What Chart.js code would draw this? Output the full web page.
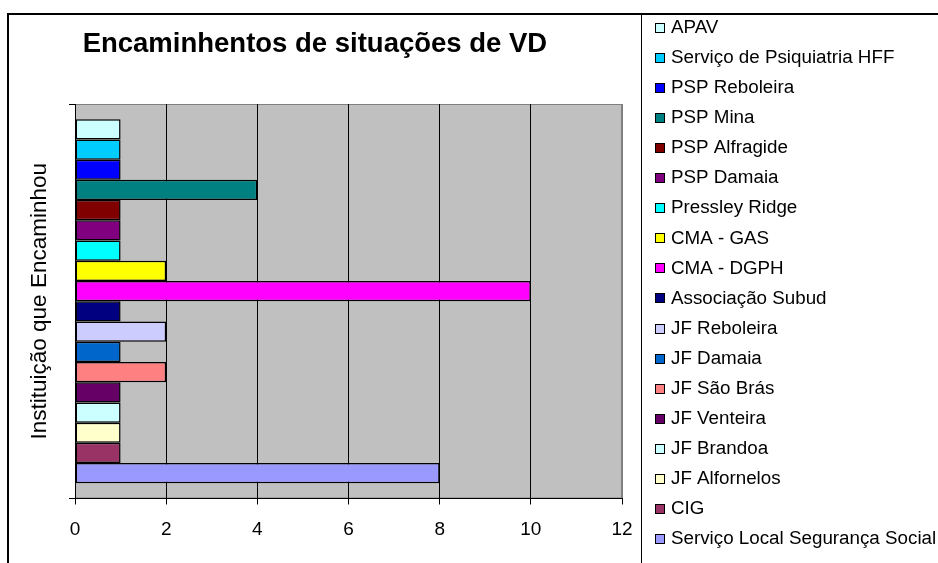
<!DOCTYPE html>
<html>
<head>
<meta charset="utf-8">
<title>Encaminhentos de situações de VD</title>
<script src="https://cdn.jsdelivr.net/npm/chart.js@4.4.1/dist/chart.umd.min.js"></script>
<style>
  html, body { margin: 0; padding: 0; background: #fff; overflow: hidden; }
  #wrap { position: relative; width: 938px; height: 563px; }
  #frame { position: absolute; left: 7px; top: 13px; width: 940px; height: 560px;
           border-left: 2px solid #000; border-top: 2px solid #000; pointer-events: none; }
  #sep { position: absolute; left: 641px; top: 14px; height: 560px;
         border-left: 1px solid #000; pointer-events: none; }
</style>
</head>
<body>
<div id="wrap">
  <canvas id="grafico"></canvas>
  <div id="frame"></div>
  <div id="sep"></div>
</div>
<script>
// dados do gráfico
const categorias = [''];
const instituicoes = [
  'APAV', 'Serviço de Psiquiatria HFF', 'PSP Reboleira', 'PSP Mina', 'PSP Alfragide',
  'PSP Damaia', 'Pressley Ridge', 'CMA - GAS', 'CMA - DGPH', 'Associação Subud',
  'JF Reboleira', 'JF Damaia', 'JF São Brás', 'JF Venteira', 'JF Brandoa',
  'JF Alfornelos', 'CIG', 'Serviço Local Segurança Social'
];
const encaminhamentos = [1, 1, 1, 4, 1, 1, 1, 2, 10, 1, 2, 1, 2, 1, 1, 1, 1, 8];
const cores = [
  '#CCFFFF', '#00CCFF', '#0000FF', '#008080', '#800000',
  '#800080', '#00FFFF', '#FFFF00', '#FF00FF', '#000080',
  '#CCCCFF', '#0066CC', '#FF8080', '#660066', '#CCFFFF',
  '#FFFFCC', '#993366', '#9999FF'
];
const ticksX = [0, 2, 4, 6, 8, 10, 12];

window.addEventListener('load', iniciar, false);

function iniciar() {
  Chart.defaults.font.family = "Arial, 'Liberation Sans', sans-serif";
  Chart.defaults.color = '#000';

  // fundo cinzento da área do gráfico, como no Excel
  const fundoGrafico = {
    id: 'fundoGrafico',
    beforeDraw(chart) {
      const { ctx, chartArea: a } = chart;
      ctx.save();
      ctx.fillStyle = '#C0C0C0';
      ctx.fillRect(a.left, a.top, a.width, a.height);
      ctx.strokeStyle = '#808080';
      ctx.lineWidth = 1;
      ctx.strokeRect(a.left + 0.5, a.top + 0.5, a.width - 1, a.height - 1);
      ctx.restore();
    }
  };

  // legenda à direita numa só coluna (a legenda do Chart.js fica estreita demais)
  const legendaExcel = {
    id: 'legendaExcel',
    afterDraw(chart) {
      const ctx = chart.ctx;
      const itens = Chart.defaults.plugins.legend.labels.generateLabels(chart);
      const x = 655, y0 = 28, passo = 30.05, lado = 10;
      ctx.save();
      ctx.font = "18.8px Arial, 'Liberation Sans', sans-serif";
      ctx.textBaseline = 'middle';
      ctx.textAlign = 'left';
      itens.forEach((item, i) => {
        const y = y0 + passo * i;
        const topo = Math.round(y - lado / 2);
        ctx.fillStyle = item.fillStyle;
        ctx.fillRect(x, topo, lado, lado);
        ctx.strokeStyle = '#000';
        ctx.lineWidth = 1;
        ctx.strokeRect(x + 0.5, topo + 0.5, lado - 1, lado - 1);
        ctx.fillStyle = '#000';
        ctx.fillText(item.text, x + 16, y);
      });
      ctx.restore();
    }
  };

  const datasets = instituicoes.map((nome, i) => ({
    label: nome,
    data: [encaminhamentos[i]],
    backgroundColor: cores[i],
    borderColor: '#000',
    borderWidth: 1.5,
    borderSkipped: false,
    barPercentage: 1,
    categoryPercentage: 18 / 19.5
  }));

  new Chart(document.getElementById('grafico'), {
    type: 'bar',
    data: { labels: categorias, datasets: datasets },
    plugins: [fundoGrafico, legendaExcel],
    options: {
      indexAxis: 'y',
      responsive: true,
      maintainAspectRatio: false,
      devicePixelRatio: 1,
      animation: false,
      layout: { padding: { top: 4, right: 316, left: 0, bottom: 0 } },
      plugins: {
        title: {
          display: true,
          text: ' Encaminhentos de situações de VD',
          align: 'start',
          fullSize: false,
          color: '#000',
          font: { size: 27.5, weight: 'bold' },
          padding: { top: 24, bottom: 43 }
        },
        legend: { display: false },
        tooltip: { enabled: false }
      },
      scales: {
        x: {
          type: 'linear',
          position: 'bottom',
          min: 0,
          max: 12,
          afterBuildTicks(s) { s.ticks = ticksX.map(v => ({ value: v })); },
          ticks: { font: { size: 19 }, color: '#000', padding: 14 },
          grid: {
            color: c => (c.tick && c.tick.value === 12 ? '#808080' : '#000'),
            tickColor: '#000',
            tickLength: 6,
            lineWidth: 1
          },
          border: { color: '#000', width: 1 },
          afterFit(s) { s.height = 563 - 498.5; }
        },
        y: {
          type: 'category',
          position: 'left',
          ticks: { display: true },
          grid: { offset: true, drawOnChartArea: false, tickLength: 6, color: '#000' },
          border: { color: '#000', width: 1 },
          title: {
            display: true,
            text: 'Instituição que Encaminhou',
            color: '#000',
            font: { size: 22.5 },
            padding: { top: 26, bottom: 0 }
          },
          afterFit(s) { s.width = 75; }
        }
      }
    }
  });
}
</script>
</body>
</html>
